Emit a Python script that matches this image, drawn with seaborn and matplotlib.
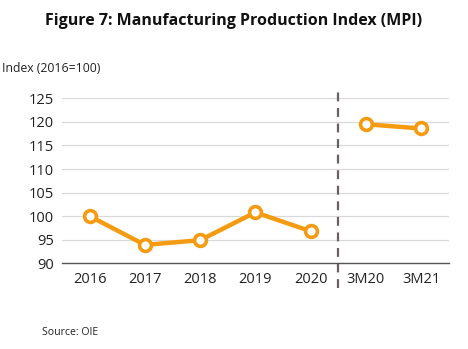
import matplotlib
matplotlib.use("Agg")
import matplotlib.pyplot as plt
import seaborn as sns
import pandas as pd

categories = ["2016", "2017", "2018", "2019", "2020", "3M20", "3M21"]
values = [100.0, 93.9, 94.9, 100.8, 96.8, 119.5, 118.6]
segments = ["annual"] * 5 + ["quarter"] * 2
yticks = [90, 95, 100, 105, 110, 115, 120, 125]

df = pd.DataFrame({"pos": range(len(categories)), "cat": categories,
                   "value": values, "seg": segments})

sns.set_theme(style="white")
plt.rcParams["font.family"] = ["Open Sans", "DejaVu Sans"]

fig = plt.figure(figsize=(4.68, 3.49), dpi=100)
ax = fig.add_axes([0.1325, 0.2456, 0.8265, 0.4727])

orange = "#F59B12"
for seg, sub in df.groupby("seg"):
    sns.lineplot(data=sub, x="pos", y="value", ax=ax, color=orange, linewidth=3.2,
                 marker="o", markersize=8.5, markerfacecolor="white",
                 markeredgecolor=orange, markeredgewidth=2.6, zorder=3)

ax.set_xlim(-0.5, len(categories) - 0.5)
ax.set_ylim(90, 125)
ax.set_yticks(yticks)
ax.set_yticklabels([str(t) for t in yticks], fontsize=10.5, color="#222222")
ax.set_xticks(range(len(categories)))
ax.set_xticklabels(categories, fontsize=10.5, color="#222222")
ax.tick_params(axis="both", length=0, pad=6)
ax.set_xlabel("")
ax.set_ylabel("")
ax.yaxis.grid(True, color="#D9D9D9", linewidth=0.9)
ax.set_axisbelow(True)
for s in ["left", "right", "top"]:
    ax.spines[s].set_visible(False)
ax.spines["bottom"].set_color("#555555")
ax.spines["bottom"].set_linewidth(1.0)

# divider between annual and quarterly data
ax.plot([4.5, 4.5], [-0.15, 1.07], transform=ax.get_xaxis_transform(),
        color="#6B6060", linestyle=(0, (4, 3)), linewidth=1.6, clip_on=False, zorder=2)

fig.text(0.5, 0.94, "Figure 7: Manufacturing Production Index (MPI)",
         ha="center", va="center", fontsize=11.5, fontweight="bold", color="#111111")
fig.text(0.004, 0.805, "Index (2016=100)", ha="left", va="center",
         fontsize=8.8, color="#222222")
fig.text(0.089, 0.048, "Source: OIE", ha="left", va="center",
         fontsize=7.6, color="#222222")

fig.savefig("out.png", dpi=100)
